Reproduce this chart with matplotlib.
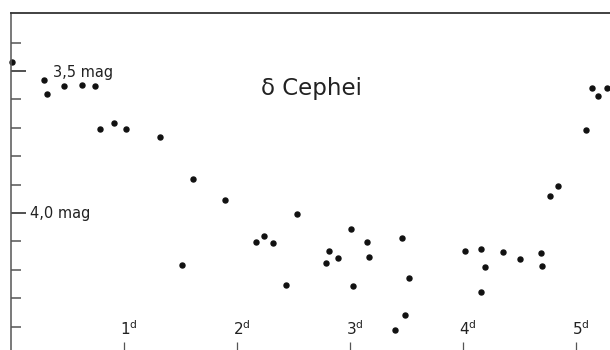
import matplotlib.pyplot as plt
import matplotlib.transforms as mtransforms

# light curve of delta Cephei: time in days, apparent magnitude
days = [0.01, 0.29, 0.32, 0.47, 0.63, 0.74, 0.79, 0.91, 1.02, 1.32,
        1.51, 1.61, 1.89, 2.17, 2.24, 2.32, 2.43, 2.53, 2.79, 2.81,
        2.89, 3.01, 3.03, 3.15, 3.17, 3.40, 3.46, 3.49, 3.52, 4.02,
        4.16, 4.16, 4.19, 4.35, 4.50, 4.69, 4.70, 4.77, 4.84, 5.09,
        5.14, 5.19, 5.27]
mags = [3.468, 3.532, 3.581, 3.553, 3.548, 3.554, 3.703, 3.682, 3.703, 3.732,
        4.182, 3.880, 3.953, 4.102, 4.080, 4.106, 4.254, 4.005, 4.175, 4.135,
        4.157, 4.055, 4.257, 4.102, 4.155, 4.410, 4.087, 4.359, 4.228, 4.134,
        4.127, 4.277, 4.191, 4.137, 4.160, 4.140, 4.188, 3.940, 3.904, 3.708,
        3.560, 3.588, 3.559]

day_ticks = [1, 2, 3, 4, 5]
mag_minor = [3.4, 3.6, 3.7, 3.8, 3.9, 4.1, 4.2, 4.3, 4.4]
mag_major = [3.5, 4.0]
mag_labels = ["3,5 mag", "4,0 mag"]

ink = "#333333"

fig = plt.figure(figsize=(6.1, 3.5), dpi=100)
ax = fig.add_axes([11 / 610, 0.0, 1 - 11 / 610, 1 - 13 / 350])
ax.set_xlim(0, 5.30)
ax.set_ylim(4.482, 3.296)

ax.plot(days, mags, "o", color="#111111", markersize=3.6, clip_on=False)

for side in ["right", "bottom"]:
    ax.spines[side].set_visible(False)
ax.spines["top"].set_color(ink)
ax.spines["top"].set_linewidth(1.3)
ax.spines["left"].set_color("#555555")
ax.spines["left"].set_linewidth(1.1)

ax.set_yticks(mag_major)
ax.set_yticks(mag_minor, minor=True)
ax.set_yticklabels([])
ax.tick_params(axis="y", which="major", direction="in", length=11, width=1.2, color=ink)
ax.tick_params(axis="y", which="minor", direction="in", length=7, width=1.1, color="#555555")

ax.set_xticks(day_ticks)
ax.set_xticklabels([])
ax.tick_params(axis="x", which="major", direction="in", length=6, width=0.9, color="#555555")

# labels for the magnitude ticks, drawn inside the axes
ax.text(0.37, 3.505, mag_labels[0], fontsize=10.5, color="#222222", ha="left", va="center")
ax.text(0.17, 4.0, mag_labels[1], fontsize=10.5, color="#222222", ha="left", va="center")

# day labels sit just above their ticks
trans = mtransforms.blended_transform_factory(ax.transData, ax.transAxes)
for d in day_ticks:
    ax.text(d + 0.04, 0.035, "$%d^{\\mathrm{d}}$" % d, transform=trans, fontsize=11,
            color="#222222", ha="center", va="bottom")

ax.text(2.66, 3.56, "δ Cephei", fontsize=16.5, color="#222222", ha="center", va="center")

fig.savefig("out.png", dpi=100)
